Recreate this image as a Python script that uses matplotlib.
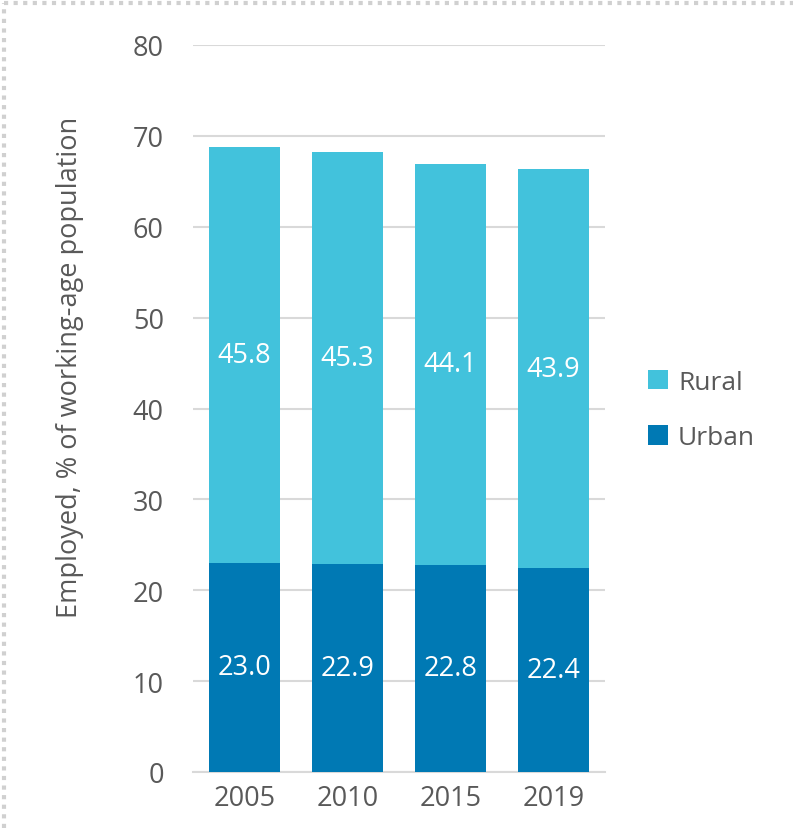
import matplotlib
matplotlib.use("Agg")
import matplotlib.pyplot as plt
from matplotlib.lines import Line2D
import numpy as np

years = ["2005", "2010", "2015", "2019"]
urban = [23.0, 22.9, 22.8, 22.4]
rural = [45.8, 45.3, 44.1, 43.9]

urban_color = "#0079B4"
rural_color = "#42C2DC"
text_color = "#595959"
grid_color = "#D9D9D9"

plt.rcParams["font.family"] = ["Open Sans", "DejaVu Sans"]

W, H = 793, 829
fig = plt.figure(figsize=(W / 100, H / 100), dpi=100)
ax = fig.add_axes([193 / W, 1 - 773 / H, (605 - 193) / W, (773 - 46) / H])

x = np.arange(len(years))
bw = 0.69
b1 = ax.bar(x, urban, bw, color=urban_color, label="Urban", zorder=3)
b2 = ax.bar(x, rural, bw, bottom=urban, color=rural_color, label="Rural", zorder=3)

for xi, u, r in zip(x, urban, rural):
    ax.text(xi, u / 2, f"{u:.1f}", ha="center", va="center", color="white", fontsize=19.5, zorder=4)
    ax.text(xi, u + r / 2, f"{r:.1f}", ha="center", va="center", color="white", fontsize=19.5, zorder=4)

ax.set_xlim(-0.5, len(years) - 0.5)
ax.set_ylim(0, 80)
ax.set_yticks(range(0, 81, 10))
ax.set_xticks(x)
ax.set_xticklabels(years)
ax.yaxis.grid(True, color=grid_color, linewidth=1.5, zorder=0)
ax.set_axisbelow(True)
for side in ["top", "right", "left"]:
    ax.spines[side].set_visible(False)
ax.spines["bottom"].set_color(grid_color)
ax.spines["bottom"].set_linewidth(1.5)
ax.tick_params(axis="both", length=0, labelsize=19.5, labelcolor=text_color)
ax.tick_params(axis="y", pad=21)
ax.tick_params(axis="x", pad=9)
ax.set_ylabel("Employed, % of working-age population", fontsize=19.5, color=text_color)
ax.yaxis.set_label_coords(-0.265, 0.558)

ax.legend(handles=[b2, b1], loc="center left", bbox_to_anchor=(624 / W, 1 - 411 / H),
          bbox_transform=fig.transFigure, frameon=False, fontsize=19,
          labelcolor=text_color, handlelength=0.75, handleheight=0.75,
          handletextpad=0.4, labelspacing=1.15)

# dotted frame along the top and left edges
fig.add_artist(Line2D([4 / W, 1], [1 - 4 / H, 1 - 4 / H], transform=fig.transFigure,
                      color="#D0D0D0", linewidth=3, linestyle=(0, (1, 1.3))))
fig.add_artist(Line2D([4 / W, 4 / W], [0, 1 - 4 / H], transform=fig.transFigure,
                      color="#D0D0D0", linewidth=3, linestyle=(0, (1, 1.3))))

fig.savefig("out.png", dpi=100)
